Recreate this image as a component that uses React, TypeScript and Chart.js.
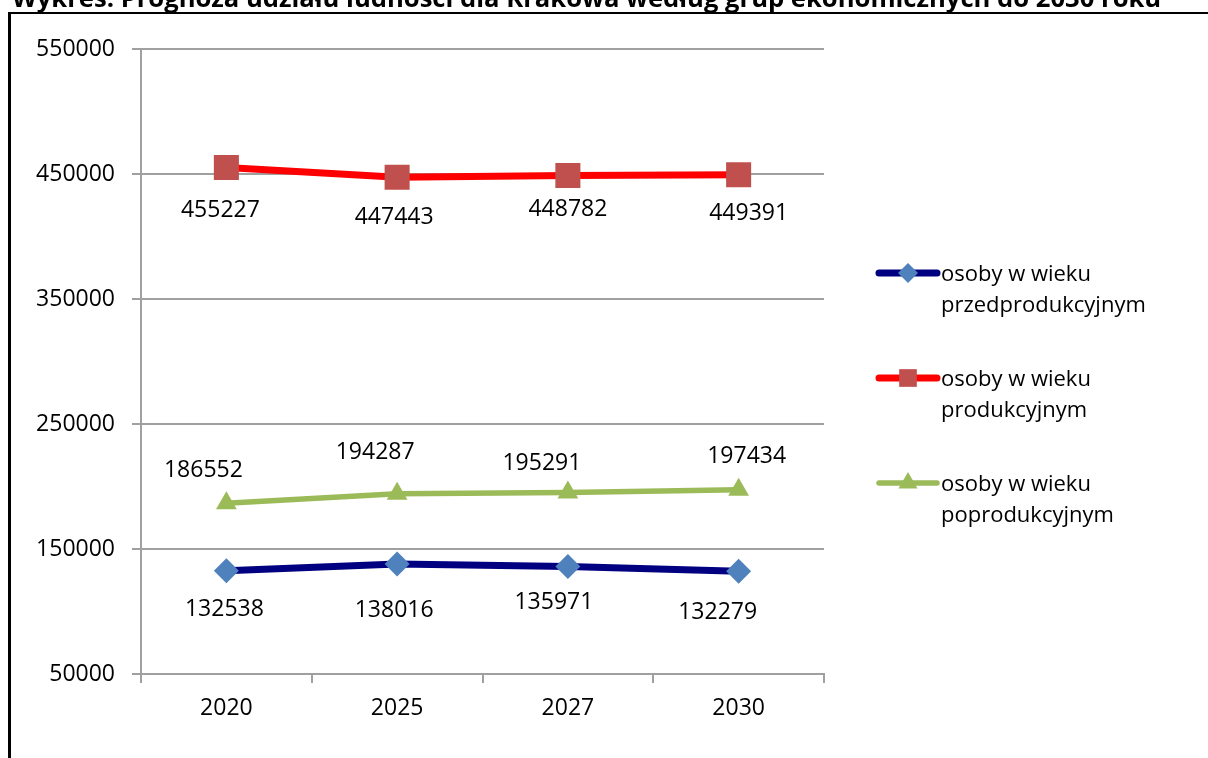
import React, { useEffect, useRef } from "react";
import { Chart, registerables } from "chart.js";

Chart.register(...registerables);

// ---- data ----
const TITLE = "Wykres: Prognoza udziału ludności dla Krakowa według grup ekonomicznych do 2030 roku";
const categories = ["2020", "2025", "2027", "2030"];
const preProductive = [132538, 138016, 135971, 132279];
const productive = [455227, 447443, 448782, 449391];
const postProductive = [186552, 194287, 195291, 197434];
const legendLines = [
  ["osoby w wieku", "przedprodukcyjnym"],
  ["osoby w wieku", "produkcyjnym"],
  ["osoby w wieku", "poprodukcyjnym"],
];
const yMin = 50000;
const yMax = 550000;
const yStep = 100000;

// ---- label placement (style, px offsets from each point) ----
const preLabelOffsets = [[-2, 39], [-3, 46], [-14, 36], [-21, 41]];
const prodLabelOffsets = [[-6, 43], [-3, 40], [0, 34], [10, 39]];
const postLabelOffsets = [[-23, -33], [-22, -41], [-26, -29], [8, -33]];

const FONT = '"Open Sans", "Noto Sans", sans-serif';
const GRID = "#a0a0a0";

function drawMarker(ctx: CanvasRenderingContext2D, style: string, x: number, y: number, r: number, color: string) {
  ctx.save();
  ctx.fillStyle = color;
  ctx.beginPath();
  if (style === "rectRot") {
    ctx.moveTo(x, y - r);
    ctx.lineTo(x + r, y);
    ctx.lineTo(x, y + r);
    ctx.lineTo(x - r, y);
  } else if (style === "rect") {
    const s = r * Math.SQRT1_2;
    ctx.rect(x - s, y - s, 2 * s, 2 * s);
  } else {
    ctx.moveTo(x, y - r);
    ctx.lineTo(x + (r * Math.sqrt(3)) / 2, y + r / 2);
    ctx.lineTo(x - (r * Math.sqrt(3)) / 2, y + r / 2);
  }
  ctx.closePath();
  ctx.fill();
  ctx.restore();
}

const overlayPlugin = {
  id: "overlay",
  afterDatasetsDraw(chart: any) {
    const ctx: CanvasRenderingContext2D = chart.ctx;
    ctx.save();
    ctx.font = `23px ${FONT}`;
    ctx.fillStyle = "#000";
    ctx.textAlign = "center";
    ctx.textBaseline = "middle";
    chart.data.datasets.forEach((ds: any, i: number) => {
      const meta = chart.getDatasetMeta(i);
      meta.data.forEach((pt: any, j: number) => {
        const off = ds.labelOffsets[j];
        ctx.fillText(String(ds.data[j]), pt.x + off[0], pt.y + off[1]);
      });
    });
    ctx.restore();
  },
  afterDraw(chart: any) {
    const ctx: CanvasRenderingContext2D = chart.ctx;
    const area = chart.chartArea;
    ctx.save();
    // frame
    ctx.fillStyle = "#000";
    ctx.fillRect(8, 12, 3, chart.height - 12);
    ctx.fillRect(8, 12, chart.width - 8, 2);
    // title (cut off at the top)
    ctx.font = `bold 24px ${FONT}`;
    const w = ctx.measureText(TITLE).width;
    const target = 1150;
    const size = (24 * target) / w;
    ctx.font = `bold ${size}px ${FONT}`;
    ctx.textAlign = "left";
    ctx.textBaseline = "alphabetic";
    ctx.fillText(TITLE, 12, 7);
    // legend
    const lx0 = area.right + 55;
    const lx1 = area.right + 113;
    const ly0 = 273;
    const gap = 105;
    ctx.font = `22px ${FONT}`;
    ctx.textBaseline = "middle";
    chart.data.datasets.forEach((ds: any, i: number) => {
      const y = ly0 + i * gap;
      ctx.strokeStyle = ds.borderColor;
      ctx.lineWidth = ds.borderWidth;
      ctx.lineCap = "round";
      ctx.beginPath();
      ctx.moveTo(lx0, y);
      ctx.lineTo(lx1, y);
      ctx.stroke();
      drawMarker(ctx, ds.pointStyle, (lx0 + lx1) / 2, y, ds.legendMarkerRadius, ds.pointBackgroundColor);
      ctx.fillStyle = "#000";
      legendLines[i].forEach((t, k) => {
        ctx.fillText(t, lx1 + 4, y + 2 + k * 31);
      });
    });
    ctx.restore();
  },
};

export default function App() {
  const ref = useRef<HTMLCanvasElement>(null);
  useEffect(() => {
    if (!ref.current) return;
    const chart = new Chart(ref.current, {
      type: "line",
      data: {
        labels: categories,
        datasets: [
          {
            label: legendLines[0].join(" "),
            data: preProductive,
            borderColor: "#000080",
            borderWidth: 7,
            pointStyle: "rectRot",
            pointRadius: 12.5,
            pointBackgroundColor: "#4f81bd",
            pointBorderColor: "#4f81bd",
            pointBorderWidth: 0,
            tension: 0,
            labelOffsets: preLabelOffsets,
            legendMarkerRadius: 10,
          } as any,
          {
            label: legendLines[1].join(" "),
            data: productive,
            borderColor: "#ff0000",
            borderWidth: 7,
            pointStyle: "rect",
            pointRadius: 17.7,
            pointBackgroundColor: "#c0504d",
            pointBorderColor: "#c0504d",
            pointBorderWidth: 0,
            tension: 0,
            labelOffsets: prodLabelOffsets,
            legendMarkerRadius: 12.5,
          } as any,
          {
            label: legendLines[2].join(" "),
            data: postProductive,
            borderColor: "#9bbb59",
            borderWidth: 5.5,
            pointStyle: "triangle",
            pointRadius: 12,
            pointBackgroundColor: "#9bbb59",
            pointBorderColor: "#9bbb59",
            pointBorderWidth: 0,
            tension: 0,
            labelOffsets: postLabelOffsets,
            legendMarkerRadius: 11,
          } as any,
        ],
      },
      options: {
        responsive: false,
        animation: false,
        layout: { padding: { top: 49, right: 384, left: 0, bottom: 0 } },
        plugins: {
          legend: { display: false },
          title: { display: false },
          tooltip: { enabled: false },
        },
        scales: {
          x: {
            type: "category",
            offset: true,
            grid: {
              offset: true,
              drawOnChartArea: false,
              drawTicks: true,
              tickLength: 9,
              color: GRID,
              lineWidth: 2,
            },
            border: { display: true, color: GRID, width: 2 },
            ticks: {
              color: "#000",
              font: { family: FONT, size: 23 },
              padding: 12,
              maxRotation: 0,
            },
            afterFit(scale: any) {
              scale.height = 84;
            },
          },
          y: {
            min: yMin,
            max: yMax,
            grid: {
              color: GRID,
              lineWidth: 2,
              drawTicks: true,
              tickLength: 9,
            },
            border: { display: true, color: GRID, width: 2 },
            ticks: {
              stepSize: yStep,
              color: "#000",
              font: { family: FONT, size: 23 },
              padding: 17,
              callback: (v: any) => String(v),
            },
            afterFit(scale: any) {
              scale.width = 141;
            },
          },
        },
      },
      plugins: [overlayPlugin],
    });
    return () => chart.destroy();
  }, []);
  return (
    <div style={{ position: "fixed", left: 0, top: 0, width: 1208, height: 758, background: "#fff" }}>
      <canvas ref={ref} width={1208} height={758} style={{ display: "block" }} />
    </div>
  );
}
